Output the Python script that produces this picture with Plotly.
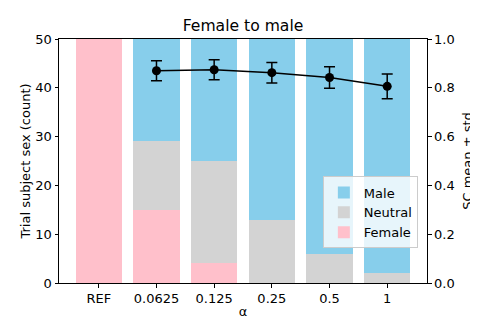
import plotly.graph_objects as go

categories = ["REF", "0.0625", "0.125", "0.25", "0.5", "1"]
female = [50, 15, 4, 0, 0, 0]
neutral = [0, 14, 21, 13, 6, 2]
male = [0, 21, 25, 37, 44, 48]
sc_cats = ["0.0625", "0.125", "0.25", "0.5", "1"]
sc_mean = [0.870, 0.874, 0.862, 0.842, 0.806]
sc_std = [0.041, 0.041, 0.042, 0.044, 0.051]

pos = {c: i for i, c in enumerate(categories)}
xs = list(range(len(categories)))
sc_x = [pos[c] for c in sc_cats]

fig = go.Figure()
fig.add_trace(go.Bar(x=xs, y=female, name="Female", marker_color="#FFC0CB",
                     marker_line_width=0, width=0.8))
fig.add_trace(go.Bar(x=xs, y=neutral, name="Neutral", marker_color="#D3D3D3",
                     marker_line_width=0, width=0.8))
fig.add_trace(go.Bar(x=xs, y=male, name="Male", marker_color="#87CEEB",
                     marker_line_width=0, width=0.8))
fig.add_trace(go.Scatter(x=sc_x, y=sc_mean, yaxis="y2", mode="lines+markers",
                         line=dict(color="black", width=1.5),
                         marker=dict(color="black", size=9),
                         error_y=dict(type="data", array=sc_std, color="black",
                                      thickness=1.5, width=5.5),
                         showlegend=False))

# the page body has an 8px margin, so the figure is sized/offset to compensate
font = dict(family="DejaVu Sans", size=13, color="black")
fig.update_layout(
    width=470, height=311,
    margin=dict(l=51, r=51, t=31, b=36),
    barmode="stack",
    plot_bgcolor="white", paper_bgcolor="white",
    font=font,
    title=dict(text="Female to male", xref="paper", x=0.5, xanchor="center",
               y=0.944, yanchor="middle", automargin=False,
               font=dict(family="DejaVu Sans", size=15.6, color="black")),
    xaxis=dict(range=[-0.69, 5.69], tickvals=xs, ticktext=categories,
               automargin=False,
               showgrid=False, zeroline=False, showline=True, linecolor="black",
               linewidth=1, mirror=True, ticks="outside", ticklen=3.5,
               tickcolor="black",
               title=dict(text="α", standoff=2, font=font)),
    yaxis=dict(range=[0, 50], tickvals=[0, 10, 20, 30, 40, 50], showgrid=False,
               automargin=False,
               zeroline=False, showline=True, linecolor="black", linewidth=1,
               ticks="outside", ticklen=3.5, tickcolor="black",
               title=dict(text="Trial subject sex (count)", standoff=1, font=font)),
    yaxis2=dict(range=[0, 1], overlaying="y", side="right",
                automargin=False,
                tickvals=[0, 0.2, 0.4, 0.6, 0.8, 1.0], tickformat=".1f",
                showgrid=False, zeroline=False, showline=True, linecolor="black",
                linewidth=1, ticks="outside", ticklen=3.5, tickcolor="black",
                title=dict(text="SC mean ± std", standoff=9, font=font)),
    legend=dict(x=0.717, y=0.289, xanchor="left", yanchor="middle",
                traceorder="reversed", bgcolor="rgba(255,255,255,0.8)",
                bordercolor="#CCCCCC", borderwidth=1, font=font,
                itemwidth=30, tracegroupgap=0),
)

fig.write_html("out.html")
